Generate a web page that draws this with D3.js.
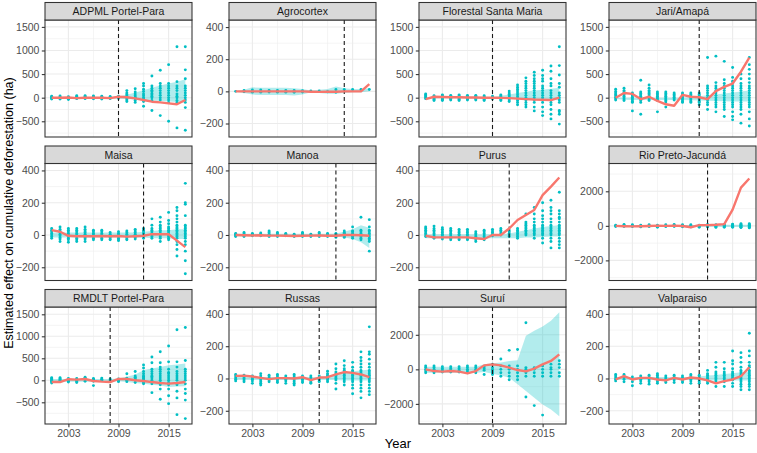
<!DOCTYPE html>
<html><head><meta charset="utf-8">
<script src="https://cdn.jsdelivr.net/npm/d3@7"></script>
<style>body{margin:0;background:#fff} svg{display:block}</style>
</head><body><svg id="c" width="757" height="453"></svg>
<script>
const years = [2001,2002,2003,2004,2005,2006,2007,2008,2009,2010,2011,2012,2013,2014,2015,2016,2017];
const xTicks = [2003, 2009, 2015];
const panelNames = ["ADPML Portel-Para","Agrocortex","Florestal Santa Maria","Jari/Amapá","Maisa","Manoa","Purus","Rio Preto-Jacundá","RMDLT Portel-Para","Russas","Suruí","Valparaiso"];
const treatYears = [2009, 2014, 2009, 2011, 2012, 2013, 2011, 2012, 2008, 2011, 2009, 2011];
const yDomains = [[-833,1646],[-284,444],[-833,1646],[-833,1646],[-282,443],[-282,443],[-282,443],[-3165,3610],[-993,1666],[-282,443],[-3165,3610],[-282,443]];
const yTicks = [[-500,0,500,1000,1500],[-200,0,200,400],[-500,0,500,1000,1500],[-500,0,500,1000,1500],[-200,0,200,400],[-200,0,200,400],[-200,0,200,400],[-2000,0,2000],[-500,0,500,1000,1500],[-200,0,200,400],[-2000,0,2000],[-200,0,200,400]];

// treated unit's estimated effect (red line)
const effectLines = [
  [0,0,5,-10,0,0,0,-10,20,10,-15,-50,-85,-100,-120,-140,-50],
  [0,0,0,0,0,0,0,0,0,-2,-3,-2,-2,0,0,0,45],
  [-30,20,15,10,10,5,5,0,0,-5,-10,-20,-30,-40,-45,-50,0],
  [0,100,80,-30,20,-70,-140,-170,60,20,10,-30,140,230,300,550,850],
  [30,20,-5,-8,-8,-8,-6,-8,-6,-10,-8,-5,5,5,5,-35,-75],
  [0,-2,-3,-2,-4,-4,-5,-6,-5,-4,-3,-5,-5,0,0,-2,-5],
  [-5,-15,-15,-15,-15,-15,-20,-25,0,0,40,93,124,155,247,300,356],
  [0,-20,-30,-20,-10,10,0,10,-10,-80,40,40,60,100,940,2215,2745],
  [-40,-40,25,15,30,-15,-30,-40,30,30,0,-15,-40,-60,-75,-60,-40],
  [16,18,12,4,-4,2,2,0,8,-10,6,8,25,40,35,25,8],
  [0,-100,-135,-100,-135,-230,-100,230,290,230,100,-40,-115,40,290,485,870],
  [-6,14,-6,4,4,-6,-12,4,-6,6,0,-12,-30,-16,-6,14,70]
];
// confidence band, lower edge
const bandLow = [
  [-15,-15,-15,-15,-15,-15,-15,-15,-20,-30,-40,-50,-60,-70,-80,-90,-100],
  [-3,-10,-20,-22,-22,-22,-22,-25,-20,-5,-10,-15,-15,-10,-5,-5,0],
  [-10,-10,-10,-10,-10,-10,-10,-10,-15,-20,-25,-30,-35,-40,-45,-50,-55],
  [-30,-45,-50,-50,-50,-50,-50,-50,-50,-55,-60,-65,-70,-75,-80,-80,-80],
  [-15,-15,-15,-15,-15,-15,-15,-15,-15,-15,-15,-15,-20,-20,-20,-25,-25],
  [-8,-8,-8,-8,-8,-8,-8,-8,-8,-8,-8,-8,-10,-15,-25,-45,-80],
  [-20,-20,-20,-20,-20,-20,-20,-20,-20,-20,-20,-20,-15,-15,-12,-10,-10],
  [-50,-50,-50,-50,-50,-50,-50,-50,-50,-50,-50,-50,-50,-60,-60,-60,-60],
  [-30,-30,-30,-30,-30,-30,-30,-30,-20,-40,-60,-80,-100,-120,-150,-140,-135],
  [-10,-10,-10,-10,-10,-10,-10,-10,-10,-10,-10,-10,-10,-12,-12,-12,-12],
  [-200,-200,-200,-200,-200,-200,-200,-150,-250,-350,-480,-870,-1260,-1650,-2040,-2330,-2720],
  [-10,-10,-10,-10,-10,-10,-10,-10,-10,-10,-10,-12,-12,-12,-12,-12,-12]
];
// confidence band, upper edge
const bandHigh = [
  [15,15,15,15,15,15,15,15,25,60,110,160,210,260,300,340,390],
  [3,10,25,22,22,22,22,20,15,5,10,15,30,20,15,15,20],
  [10,10,10,10,10,10,10,10,15,40,70,100,125,150,170,190,210],
  [0,0,0,0,0,0,0,0,0,10,30,50,70,90,110,130,150],
  [15,15,15,15,15,15,15,15,15,15,15,20,25,30,30,35,35],
  [8,8,8,8,8,8,8,8,8,8,8,8,10,20,35,60,45],
  [5,5,5,5,5,5,5,5,5,5,10,20,30,40,50,55,60],
  [50,50,50,50,50,50,50,50,50,50,50,50,50,60,60,60,60],
  [30,30,30,30,30,30,30,30,40,80,130,230,270,300,340,360,380],
  [10,10,10,10,10,10,10,10,10,10,10,15,25,35,45,50,55],
  [150,150,150,150,150,150,150,300,350,390,485,520,1940,2230,2480,2810,3300],
  [10,10,10,10,10,10,10,10,10,10,12,18,22,28,32,38,45]
];
// placebo effects of donor units, one list per year
const placeboPoints = [
  [[30,15,0,-15,-30],[35,15,0,-15,-30],[20,5,-10,-25,-40],[40,25,10,-5,-20],[40,25,10,-5,-20],[35,20,5,-10,-25],[30,15,0,-15,-30],[25,10,-5,-20],[30,15,0,-15],
   [150,100,70,40,10,-20,-50,-80],[190,120,80,40,10,-20,-60,-100],[300,250,180,130,80,40,0,-30,-80,-180],
   [460,250,200,160,130,90,60,30,0,-60,-270],[580,300,250,200,150,100,50,0,-50,-380],[700,300,250,200,150,100,50,0,-50,-100,-500],
   [1080,340,250,200,150,80,30,0,-60,-100,-640],[1080,590,400,250,200,150,100,50,0,-50,-100,-210,-690]],
  [[0],[5,-3],[8,-5],[8,-5],[6,-4],[6,-5],[5,-5],[5,-6],[4,-4],[2],[3],[-2],[12,-6],[12],[12],[12],[12]],
  [[80,60,40,20,0,-20],[40,20,0,-20,-40,-60],[60,40,20,0,-20,-40,-60],[50,30,10,-10,-30,-50],[60,40,20,0,-20,-40,-60],[50,30,10,-10,-30,-50],[50,30,10,-10,-30,-50],[40,20,0,-20,-40,-60],[30,10,-10,-30],
   [60,40,20,0,-20,-40,-60],[140,100,70,40,10,-20,-50,-80],[270,220,180,140,100,60,20,-20,-60,-100,-150],[420,350,300,250,200,150,100,50,0,-50,-100,-150,-200],
   [540,470,400,350,300,250,200,150,100,50,0,-50,-100,-200,-280],[580,470,400,350,250,200,150,100,50,0,-50,-100,-200,-300,-380],
   [670,560,400,300,250,150,100,50,0,-50,-100,-150,-250,-350,-450],[1080,680,480,300,220,100,50,0,-50,-100,-270,-300,-350,-560]],
  [[180,130,100,70,40,10,-20,-50],[200,150,120,90,60,30,0,-30,-60],[100,70,40,10,-20,-50,-80,-100,-280],[370,120,90,60,30,0,-30,-60,-100,-350],[270,200,150,120,90,60,30,0,-30,-60],
   [120,90,60,30,0,-30,-60,-300],[120,90,60,30,0,-30,-60,-90,-200],[100,70,40,10,-20,-50],[100,70,40,10,-20,-50,-80,-100],[100,70,40,10,-20,-50,-80,-100],[100,70,40,10,-20,-50,-80,-100,-150],
   [850,250,200,150,100,50,0,-50,-100,-150,-250],[880,320,250,200,150,100,50,0,-50,-100,-150,-200,-300],[770,380,300,250,200,150,100,50,0,-50,-100,-150,-200,-250,-400],
   [640,430,350,300,250,200,150,100,50,0,-50,-100,-150,-200,-300,-400,-470],[500,400,300,250,200,150,100,50,0,-50,-100,-150,-200,-250,-350,-540],[850,700,600,500,400,320,250,200,150,100,50,0,-50,-100,-150,-200,-300,-450,-600]],
  [[40,30,20,10,0,-10,-20],[50,35,25,15,5,-5,-15,-25,-40],[40,30,20,10,0,-10,-20,-30,-45],[40,30,20,10,0,-10,-20,-30,-40],[50,35,25,15,5,-5,-15,-25,-40],[30,20,10,0,-10,-20,-30],[30,20,10,0,-10,-20,-30],[15,5,-5,-15,-25,-30],[20,10,0,-10,-20,-30,-35],
   [25,15,5,-5,-15,-25,-30],[35,25,15,5,-5,-15,-25],[40,30,20,10,0,-10,-20],[100,60,40,30,20,10,0,-10,-20],[110,80,60,50,40,30,20,10,0,-10,-20,-40],[140,90,70,50,40,30,20,10,0,-10,-20,-30],
   [170,150,120,100,80,60,50,40,30,20,10,0,-10,-20,-40,-60,-90,-130],[320,200,190,120,60,50,40,30,20,10,0,-10,-20,-40,-60,-100,-160,-240]],
  [[10,5,0,-5,-10],[15,8,0,-5,-10],[10,5,0,-5],[12,5,0,-5],[25,15,5,0,-5,-10],[15,8,0,-5,-10],[10,5,0,-5],[5,0,-5,-10],[15,8,0,-5,-10],[5,0,-5,-10],[15,8,0,-5,-10],[10,5,0,-5,-10],[10,5,0,-5,-10,-15],
   [25,15,10,5,0,-5,-10,-15],[50,25,20,10,0,-10,-20],[110,30,20,10,0,-10,-20,-30],[95,50,30,20,10,0,-10,-20,-30,-40,-100]],
  [[50,40,30,20,10,0,-10],[55,40,30,20,10,0,-10,-20],[45,35,25,15,5,-5,-15,-25],[40,30,20,10,0,-10,-20,-30],[35,25,15,5,-5,-15,-25,-30],[35,25,15,5,-5,-15,-25,-30],[20,10,0,-10,-20,-30,-40],[30,20,10,0,-10,-20,-30],[35,25,15,5,-5],
   [40,30,20,10,0],[30,20,10,0,-10],[40,30,20,10,0,-10,-20],[130,80,70,60,50,40,30,20,10,0],[170,130,100,80,60,50,40,30,20,10,0,-20],[200,150,120,100,80,60,50,40,30,20,10,0,-20,-50],
   [215,170,150,130,100,80,60,50,40,30,20,10,0,-20,-40,-80],[265,150,130,110,100,80,60,50,40,30,20,10,0,-20,-40,-60,-80]],
  [[40,0,-40],[80,40,0,-40],[60,20,-20,-40],[40,0,-40,-60],[60,20,-20,-40],[40,0,-40,-80],[60,20,-20,-40],[80,40,0,-40],[60,20,-20,-50],[60,20,-20,-60],[40,0,-40,-80],[80,40,0,-40,-60],[60,20,-20,-60,-90],
   [80,40,0,-40,-80],[100,60,20,-20,-60,-80],[120,80,30,0,-40,-80,-100],[120,80,40,0,-40,-80,-120]],
  [[60,40,20,0,-20,-40,-60],[60,40,20,0,-20],[40,20,0,-20,-40],[40,20,0,-25,-50],[70,50,30,10,-20],[40,20,0,-20,-120],[50,25,0],[30,5,-20],[30,15,0,-15,-30],
   [150,50,30,20,0,-30],[200,100,70,50,25,0,-50],[350,280,200,150,100,80,50,30,0,-50,-80],[530,400,250,200,150,100,80,50,0,-80,-280],
   [650,400,300,250,200,150,100,50,0,-50,-100,-200,-430],[780,420,250,180,150,100,50,0,-50,-100,-200,-350,-530],[1150,420,300,200,150,100,50,0,-100,-250,-400,-780],
   [1200,450,250,200,150,100,50,0,-80,-200,-300,-450,-870]],
  [[25,15,5,-5,-15],[20,10,0,-10,-20],[15,5,-5,-15,-30],[30,15,0,-10,-20,-30,-40],[20,10,0,-10,-20],[25,15,5,-5,-15,-25],[15,5,-5,-15,-30],[25,15,5,-10,-20,-30,-40],[15,5,-5,-15,-25],
   [15,5,-5,-15,-25,-30],[15,5,-5,-15,-20],[45,30,20,10,0,-10,-20],[90,60,40,30,20,10,0,-10,-30,-65],[110,80,60,50,40,30,20,10,0,-10,-20,-40],[100,70,50,40,30,20,10,0,-10,-20,-40,-60,-95],
   [165,130,110,90,70,50,40,30,20,10,0,-10,-20,-40,-60,-80,-120],[320,165,150,120,90,70,50,40,30,20,10,0,-10,-20,-40,-60,-80,-100]],
  [[200,100,0,-100,-200],[200,100,0,-100,-200],[150,50,-50,-150],[150,50,-50,-150],[150,50,-50,-150],[200,100,0,-100,-200],[200,100,0,-100,-200],[150,50,-50,-300],
   [300,100,0,-100,-200,-300],[600,200,0,-200,-400],[1100,200,0,-200,-400,-600],[1150,200,0,-200,-400,-600],
   [2700,100,0,-200,-400,-1600],[100,0,-200,-400,-2100],[200,0,-200,-400,-2650],[300,100,0,-200,-400],[500,300,100,-200,-400]],
  [[25,15,5,-5,-15],[25,15,5,-5,-20],[10,-5,-20,-45],[15,5,-5,-15,-30],[20,10,0,-10,-20,-35],[30,20,10,0,-10,-20,-30],[15,5,-5,-15,-25],[20,10,0,-10,-25],[15,5,-5,-15,-25],
   [25,15,5,-5,-15,-30],[20,10,0,-10,-20,-30],[50,30,20,10,0,-10,-20,-30],[100,70,40,30,20,10,0,-10,-20,-50],[100,60,40,30,20,10,0,-10,-20,-50],[170,110,90,60,40,30,20,10,0,-10,-30,-50],
   [160,130,100,70,50,40,30,20,10,0,-10,-20,-35,-50,-70],[280,170,140,100,80,70,50,40,30,20,10,0,-10,-20,-35,-50,-70]]
];

const colLeft = [45, 229, 419, 609];
const rowTop = [2.5, 146, 289.5];
const panelW = 147, stripH = 17.5, panelH = 117;
const FONT = "'Liberation Sans', Arial, sans-serif";
const svg = d3.select("#c");
const fmt = v => v < 0 ? "\u2212" + Math.abs(v) : String(v);

panelNames.forEach((name, i) => {
  const col = i % 4, row = Math.floor(i / 4);
  const x0 = colLeft[col], sTop = rowTop[row], pTop = sTop + stripH;
  const xs = d3.scaleLinear().domain([2000.2, 2017.8]).range([0, panelW]);
  const ys = d3.scaleLinear().domain(yDomains[i]).range([panelH, 0]);
  const g = svg.append("g").attr("transform", `translate(${x0},${pTop})`);
  g.append("rect").attr("width", panelW).attr("height", panelH).attr("fill", "#fff");
  const clipId = "clip" + i;
  g.append("clipPath").attr("id", clipId).append("rect").attr("width", panelW).attr("height", panelH);
  const grid = g.append("g");
  const ticks = yTicks[i];
  const step = ticks[1] - ticks[0];
  const minorY = [];
  for (let k = 0; k <= ticks.length; k++) minorY.push(ticks[0] - step / 2 + k * step);
  minorY.filter(v => v > yDomains[i][0] && v < yDomains[i][1]).forEach(v => {
    grid.append("line").attr("x1", 0).attr("x2", panelW).attr("y1", ys(v)).attr("y2", ys(v))
      .attr("stroke", "#EBEBEB").attr("stroke-width", 0.55);
  });
  [2006, 2012].forEach(v => {
    grid.append("line").attr("x1", xs(v)).attr("x2", xs(v)).attr("y1", 0).attr("y2", panelH)
      .attr("stroke", "#EBEBEB").attr("stroke-width", 0.55);
  });
  ticks.forEach(v => {
    grid.append("line").attr("x1", 0).attr("x2", panelW).attr("y1", ys(v)).attr("y2", ys(v))
      .attr("stroke", "#EBEBEB").attr("stroke-width", 1.07);
  });
  xTicks.forEach(v => {
    grid.append("line").attr("x1", xs(v)).attr("x2", xs(v)).attr("y1", 0).attr("y2", panelH)
      .attr("stroke", "#EBEBEB").attr("stroke-width", 1.07);
  });
  const plot = g.append("g").attr("clip-path", `url(#${clipId})`);
  const band = years.map((y, k) => ({ y, lo: bandLow[i][k], hi: bandHigh[i][k] }));
  plot.append("path").datum(band)
    .attr("d", d3.area().x(d => xs(d.y)).y0(d => ys(d.lo)).y1(d => ys(d.hi)))
    .attr("fill", "#00BFC4").attr("fill-opacity", 0.3);
  const pts = [];
  years.forEach((y, k) => placeboPoints[i][k].forEach(v => pts.push({ y, v })));
  plot.selectAll("circle.p").data(pts).enter().append("circle")
    .attr("cx", d => xs(d.y)).attr("cy", d => ys(d.v)).attr("r", 1.45).attr("fill", "#00BFC4");
  plot.append("line").attr("x1", xs(treatYears[i])).attr("x2", xs(treatYears[i]))
    .attr("y1", 0).attr("y2", panelH).attr("stroke", "#1a1a1a").attr("stroke-width", 1.1)
    .attr("stroke-dasharray", "4,3");
  plot.append("path").datum(years.map((y, k) => ({ y, v: effectLines[i][k] })))
    .attr("d", d3.line().x(d => xs(d.y)).y(d => ys(d.v)))
    .attr("fill", "none").attr("stroke", "#F8766D").attr("stroke-width", 2.4)
    .attr("stroke-linejoin", "round").attr("stroke-linecap", "butt");
  g.append("rect").attr("width", panelW).attr("height", panelH).attr("fill", "none")
    .attr("stroke", "#333333").attr("stroke-width", 1.07);
  const ya = g.append("g").call(d3.axisLeft(ys).tickValues(ticks).tickFormat(fmt).tickSize(3.2).tickPadding(2.4));
  ya.select(".domain").remove();
  ya.selectAll("line").attr("stroke", "#333333").attr("stroke-width", 1.07);
  ya.selectAll("text").attr("fill", "#4D4D4D").style("font-family", FONT).style("font-size", "10.5px");
  if (row === 2) {
    const xa = g.append("g").attr("transform", `translate(0,${panelH})`)
      .call(d3.axisBottom(xs).tickValues(xTicks).tickFormat(d3.format("d")).tickSize(3.2).tickPadding(2.4));
    xa.select(".domain").remove();
    xa.selectAll("line").attr("stroke", "#333333").attr("stroke-width", 1.07);
    xa.selectAll("text").attr("fill", "#4D4D4D").style("font-family", FONT).style("font-size", "10.5px");
  }
  const s = svg.append("g").attr("transform", `translate(${x0},${sTop})`);
  s.append("rect").attr("width", panelW).attr("height", stripH).attr("fill", "#D9D9D9")
    .attr("stroke", "#333333").attr("stroke-width", 1.07);
  s.append("text").attr("x", panelW / 2).attr("y", stripH / 2).attr("dy", "0.36em")
    .attr("text-anchor", "middle").attr("fill", "#1A1A1A")
    .style("font-family", FONT).style("font-size", "10.5px").text(name);
});

svg.append("text").attr("x", 398).attr("y", 448).attr("text-anchor", "middle")
  .style("font-family", FONT).style("font-size", "13px").attr("fill", "#000").text("Year");
svg.append("text").attr("transform", "translate(12.5,213) rotate(-90)").attr("text-anchor", "middle")
  .style("font-family", FONT).style("font-size", "12.5px").attr("fill", "#000")
  .text("Estimated effect on cumulative deforestation (ha)");
</script></body></html>
